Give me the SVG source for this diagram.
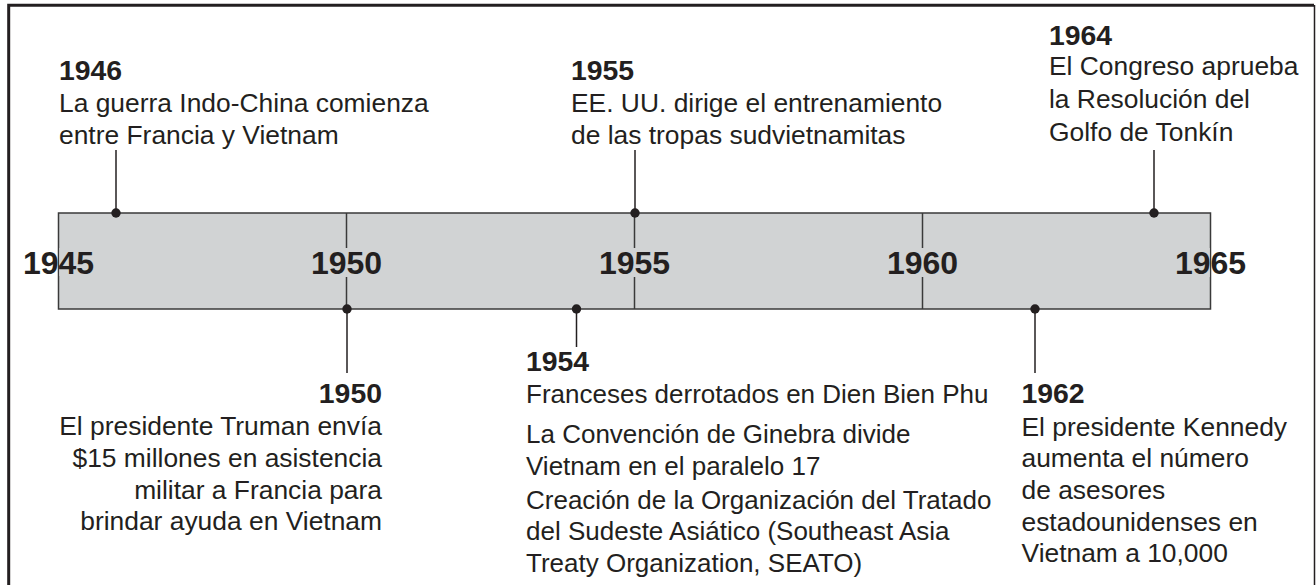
<svg xmlns="http://www.w3.org/2000/svg" width="1316" height="585" viewBox="0 0 1316 585">
<style>
text{font-family:"Liberation Sans",Arial,sans-serif;fill:#231f20}
.yr{font-size:28.4px;font-weight:bold}
.body{font-size:26.4px}
.b54{font-size:26px}
.axis{font-size:32px;font-weight:bold;text-anchor:middle}
.ln{stroke:#231f20;stroke-width:1.5;fill:none}
.dot{fill:#231f20}
.bar{fill:#d1d3d4;stroke:#3a3a3a;stroke-width:1.5}
.div{stroke:#3a3a3a;stroke-width:1.5}
.bg{fill:#d1d3d4}
</style>
<rect width="1316" height="585" fill="#ffffff"/>
<path d="M8.7 590 V5.3 H1314" fill="none" stroke="#231f20" stroke-width="3"/>
<path d="M1314.5 5 V590" fill="none" stroke="#231f20" stroke-width="1.5"/>

<g id="timeline-bar">
<rect class="bar" x="58.5" y="213" width="1152" height="96"/>
<line class="div" x1="346.5" y1="213" x2="346.5" y2="309"/>
<line class="div" x1="634.5" y1="213" x2="634.5" y2="309"/>
<line class="div" x1="922.5" y1="213" x2="922.5" y2="309"/>
<rect class="bg" x="59.3" y="248" width="3" height="28"/>
<rect class="bg" x="310" y="248" width="73" height="29"/>
<rect class="bg" x="598" y="248" width="73" height="29"/>
<rect class="bg" x="886" y="248" width="73" height="29"/>
<rect class="bg" x="1206" y="248" width="3.8" height="29"/>
<text class="axis" x="58.5" y="274">1945</text>
<text class="axis" x="346.5" y="274">1950</text>
<text class="axis" x="634.5" y="274">1955</text>
<text class="axis" x="922.5" y="274">1960</text>
<text class="axis" x="1210.5" y="274">1965</text>
</g>

<g id="connectors">
<line class="ln" x1="116" y1="150" x2="116" y2="213"/>
<line class="ln" x1="347" y1="309" x2="347" y2="373"/>
<line class="ln" x1="576.5" y1="309" x2="576.5" y2="347"/>
<line class="ln" x1="635" y1="150" x2="635" y2="213"/>
<line class="ln" x1="1035" y1="309" x2="1035" y2="373"/>
<line class="ln" x1="1154" y1="150" x2="1154" y2="213"/>
<circle class="dot" cx="116" cy="213" r="4.7"/>
<circle class="dot" cx="347" cy="309" r="4.7"/>
<circle class="dot" cx="576.5" cy="309" r="4.7"/>
<circle class="dot" cx="635" cy="213" r="4.7"/>
<circle class="dot" cx="1035" cy="309" r="4.7"/>
<circle class="dot" cx="1154" cy="213" r="4.7"/>
</g>

<g id="event-1946">
<text class="yr" x="59" y="80">1946</text>
<text class="body" x="59" y="112">La guerra Indo-China comienza</text>
<text class="body" x="59" y="144">entre Francia y Vietnam</text>
</g>

<g id="event-1950" text-anchor="end">
<text class="yr" x="382" y="403">1950</text>
<text class="body" x="382" y="435">El presidente Truman envía</text>
<text class="body" x="382" y="467">$15 millones en asistencia</text>
<text class="body" x="382" y="498.5">militar a Francia para</text>
<text class="body" x="382" y="530">brindar ayuda en Vietnam</text>
</g>

<g id="event-1954">
<text class="yr" x="526" y="371">1954</text>
<text class="b54" x="526" y="403">Franceses derrotados en Dien Bien Phu</text>
<text class="b54" x="526" y="443">La Convención de Ginebra divide</text>
<text class="b54" x="526" y="474.5">Vietnam en el paralelo 17</text>
<text class="b54" x="526" y="508.5">Creación de la Organización del Tratado</text>
<text class="b54" x="526" y="540">del Sudeste Asiático (Southeast Asia</text>
<text class="b54" x="526" y="571.5">Treaty Organization, SEATO)</text>
</g>

<g id="event-1955">
<text class="yr" x="571" y="80">1955</text>
<text class="body" x="571" y="112">EE. UU. dirige el entrenamiento</text>
<text class="body" x="571" y="144">de las tropas sudvietnamitas</text>
</g>

<g id="event-1962">
<text class="yr" x="1021.5" y="403">1962</text>
<text class="body" x="1021.5" y="435.5">El presidente Kennedy</text>
<text class="body" x="1021.5" y="467">aumenta el número</text>
<text class="body" x="1021.5" y="498.5">de asesores</text>
<text class="body" x="1021.5" y="530.5">estadounidenses en</text>
<text class="body" x="1021.5" y="562">Vietnam a 10,000</text>
</g>

<g id="event-1964">
<text class="yr" x="1049" y="45">1964</text>
<text class="body" x="1049" y="75">El Congreso aprueba</text>
<text class="body" x="1049" y="108">la Resolución del</text>
<text class="body" x="1049" y="141">Golfo de Tonkín</text>
</g>
</svg>
